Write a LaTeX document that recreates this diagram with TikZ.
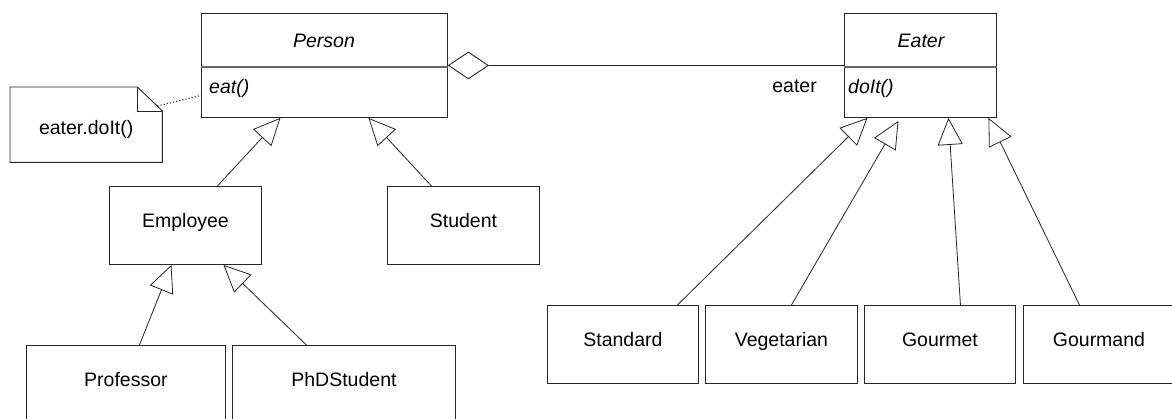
\documentclass[tikz,border=0pt]{standalone}
\usepackage{fontspec}
\setmainfont{Liberation Sans}
\usetikzlibrary{arrows.meta,shapes.geometric}
\begin{document}
\begin{tikzpicture}[x=1pt,y=-1pt,
  every node/.style={font=\fontsize{19.5}{23}\selectfont},
  boxline/.style={draw=black!85, line width=0.9pt},
  cls/.style={boxline, inner xsep=0pt, inner ysep=0pt, text height=41pt, text depth=37pt, anchor=north west},
  bigcls/.style={boxline, inner sep=0pt, minimum width=#1, minimum height=104pt, anchor=north west},
  divider/.style={draw=black!60, line width=1.2pt},
  gen/.style={draw=black!85, line width=0.8pt, -{Triangle[open, length=27pt, width=25pt]}},
  assoc/.style={draw=black!85, line width=0.8pt},
  link/.style={draw=black!85, line width=1pt, dash pattern=on 1.2pt off 2pt},
  txt/.style={inner sep=0pt, anchor=base},
]
\useasboundingbox (0,0) rectangle (1172,419);
\fill[white] (0,0) rectangle (1172,419);
\clip (0,0) rectangle (1172,419);

% Person class
\node[bigcls=246pt] (person) at (201,13) {};
\draw[divider] ([yshift=-54pt]person.north west) -- ([yshift=-54pt]person.north east);
\node[txt] (persontitle) at (324,48) {\itshape Person};
\node[txt, anchor=base west] (personop) at (209,94) {\itshape eat()};

% Eater class
\node[bigcls=152pt] (eater) at (844,13) {};
\draw[divider] ([yshift=-54pt]eater.north west) -- ([yshift=-54pt]eater.north east);
\node[txt] (eatertitle) at (921,48) {\itshape Eater};
\node[txt, anchor=base west] (eaterop) at (848,94) {\itshape doIt()};
\node[txt, anchor=base east] (rolelabel) at (817,93) {eater};

% aggregation
\node[diamond, boxline, minimum width=40pt, minimum height=27pt, inner sep=0pt, anchor=west] (agg) at (person.east) {};
\draw[assoc] (agg.east) -- (eater.west);

% note
\node[inner sep=0pt, minimum width=152pt, text height=47pt, text depth=28pt, anchor=north west] (note) at (10,87) {eater.doIt()};
\draw[boxline] (note.north west) -- ([xshift=-25pt]note.north east) -- ([yshift=-24pt]note.north east) -- (note.south east) -- (note.south west) -- cycle;
\draw[boxline] ([xshift=-25pt]note.north east) |- ([yshift=-24pt]note.north east);
\coordinate (notelink) at ([xshift=-5pt,yshift=-19pt]note.north east);
\draw[link] (notelink) -- ([yshift=-30pt]person.west);

% subclasses
\node[cls, minimum width=152pt] (employee) at (109,186) {Employee};
\node[cls, minimum width=152pt] (student) at (387,186) {Student};
\node[cls, minimum width=199pt] (professor) at (26,345) {Professor};
\node[cls, minimum width=223pt] (phd) at (232,345) {PhDStudent};
\node[cls, minimum width=151pt] (standard) at (547,305) {Standard};
\node[cls, minimum width=152pt] (veg) at (705,305) {Vegetarian};
\node[cls, minimum width=151pt] (gourmet) at (864,305) {Gourmet};
\node[cls, minimum width=160pt] (gourmand) at (1023,305) {\makebox[151pt]{Gourmand}\hspace*{9pt}};

% generalizations
\draw[gen] ([xshift=32pt]employee.north) -- ([xshift=-44pt]person.south);
\draw[gen] ([xshift=-32pt]student.north) -- ([xshift=44pt]person.south);
\draw[gen] ([xshift=13.5pt]professor.north) -- ([xshift=-14pt]employee.south);
\draw[gen] ([xshift=-37.5pt]phd.north) -- ([xshift=38pt]employee.south);
\draw[gen] ([xshift=54.5pt]standard.north) -- ([xshift=-53pt]eater.south);
\draw[gen] ([xshift=10pt]veg.north) -- ([xshift=-22pt,yshift=-3pt]eater.south);
\draw[gen] ([xshift=20.5pt]gourmet.north) -- ([xshift=28pt]eater.south);
\draw[gen] ([xshift=-24pt]gourmand.north) -- ([xshift=68pt]eater.south);
\end{tikzpicture}
\end{document}
